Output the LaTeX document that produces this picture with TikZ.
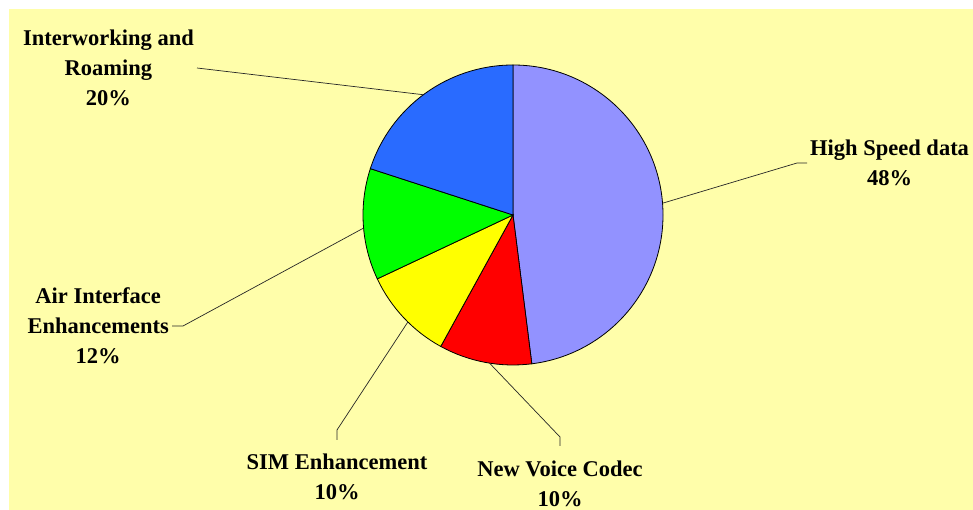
\documentclass[tikz,border=0pt]{standalone}
\usepackage{fontspec}
\setmainfont{Liberation Serif}
\definecolor{bgyel}{RGB}{255,254,170}
\definecolor{hsdcol}{RGB}{146,146,255}
\definecolor{nvccol}{RGB}{255,0,0}
\definecolor{simcol}{RGB}{255,255,0}
\definecolor{aircol}{RGB}{0,255,0}
\definecolor{iwrcol}{RGB}{41,107,255}
\tikzset{ %pie chart looks
    lbl/.style={font=\bfseries\fontsize{22.5}{30}\selectfont, align=center, inner sep=3pt},
    slice/.style={draw=black, line width=0.8pt},
    leader/.style={draw=black!85, line width=0.7pt},
}

\begin{document}
\begin{tikzpicture}[x=1pt,y=1pt]
		\useasboundingbox (0,0) rectangle (973,510);
		\fill[bgyel] (9,0) rectangle (973,501);
		\coordinate (c) at (513,295);
		\foreach \a/\b/\col in {90/-82.8/hsdcol, -82.8/-118.8/nvccol, -118.8/-154.8/simcol, -154.8/-198/aircol, -198/-270/iwrcol}{
			\filldraw[slice, fill=\col] (c) -- ++(\a:150) arc[start angle=\a, end angle=\b, radius=150] -- cycle;
		}
		% points on the rim
		\path (c) ++(4.5:150) coordinate (hsdp);
		\path (c) ++(-99:150) coordinate (nvcp);
		\path (c) ++(-134.5:150) coordinate (simp);
		\path (c) ++(185:150) coordinate (airp);
		\path (c) ++(126.7:150) coordinate (iwrp);
		% labels
		\node[lbl, anchor=west] (hsd) at (807,347) {High Speed data\\48\%};
		\node[lbl, anchor=east] (iwr) at (197,442) {Interworking and\\Roaming\\20\%};
		\node[lbl, anchor=east] (air) at (172,184) {Air Interface\\Enhancements\\12\%};
		\node[lbl, anchor=north, outer ysep=10.5pt] (sim) at (337,70) {SIM Enhancement\\10\%};
		\node[lbl, anchor=north, outer ysep=11.5pt] (nvc) at (560,64) {New Voice Codec\\10\%};
		% leaders
		\draw[leader] (hsdp) -- ([xshift=-10]hsd.west) -- (hsd.west);
		\draw[leader] (iwr.east) -- (iwrp);
		\draw[leader] (air.east) -- ++(11,0) -- (airp);
		\draw[leader] (simp) -- ([yshift=10]sim.north) -- (sim.north);
		\draw[leader] (nvcp) -- ([yshift=9]nvc.north) -- (nvc.north);
	\end{tikzpicture}
\end{document}
